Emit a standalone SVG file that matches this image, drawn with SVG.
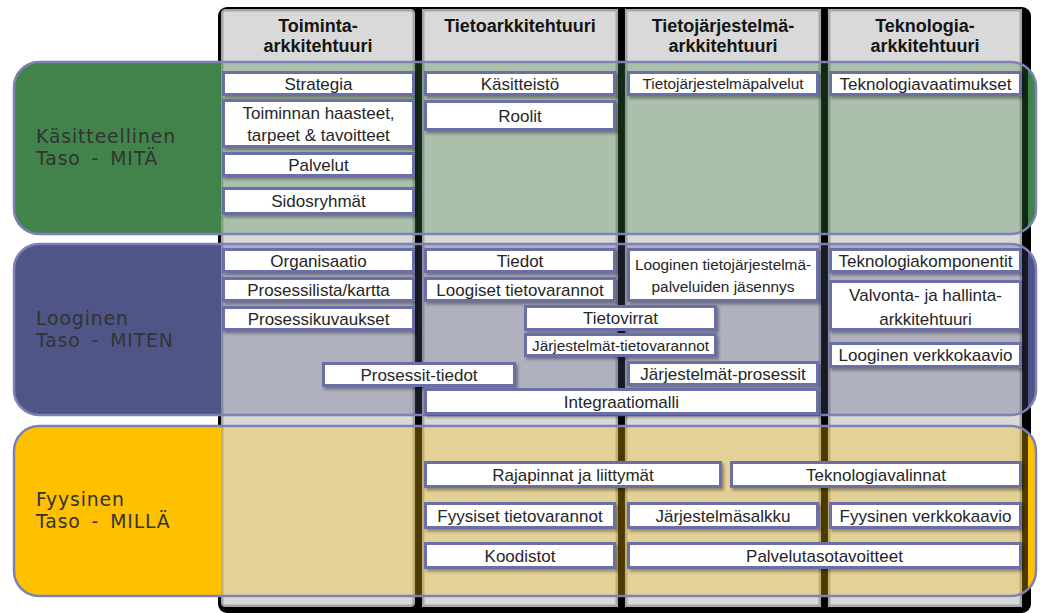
<svg xmlns="http://www.w3.org/2000/svg" width="1040" height="613" viewBox="0 0 1040 613">
<style>
.col{fill:#d9d9d9;stroke:#a6a6a6;stroke-width:2.5}
.hdr{font-family:"Liberation Sans",Arial,sans-serif;font-weight:bold;font-size:18px;fill:#141414;text-anchor:middle}
.bandline{fill:none;stroke:#7c81b7;stroke-width:2.5}
.lbl{font-family:"DejaVu Sans",Verdana,sans-serif;font-size:18.8px;fill:#333333;letter-spacing:0.9px;word-spacing:4px}
.box rect{fill:#ffffff;stroke:#6a6fa7;stroke-width:3;filter:url(#sh)}
.box text{font-family:"Liberation Sans",Arial,sans-serif;font-size:17px;fill:#262626;text-anchor:middle}
.box text.s{font-size:15.4px}
</style>
<defs>
<filter id="sh" x="-10%" y="-30%" width="120%" height="170%">
<feDropShadow dx="2" dy="2.5" stdDeviation="1.5" flood-color="#000" flood-opacity="0.35"/>
</filter>
<clipPath id="cb1"><rect x="14" y="62" width="1022" height="172" rx="25"/></clipPath>
<clipPath id="cb2"><rect x="14" y="244" width="1022" height="171" rx="25"/></clipPath>
<clipPath id="cb3"><rect x="14" y="426" width="1022" height="170" rx="25"/></clipPath>
</defs>
<rect width="1040" height="613" fill="#ffffff"/>
<g id="columns">
<rect x="218" y="7" width="813" height="606" rx="9" fill="#000"/>
<rect class="col" x="222.2" y="10.2" width="191.6" height="595.6" rx="3"/>
<rect class="col" x="423.2" y="10.2" width="193.6" height="595.6"/>
<rect class="col" x="626.2" y="10.2" width="193.6" height="595.6"/>
<rect class="col" x="829.2" y="10.2" width="191.6" height="595.6"/>
<text class="hdr" x="318" y="31.5">Toiminta-</text>
<text class="hdr" x="318" y="52">arkkitehtuuri</text>
<text class="hdr" x="520" y="31.5">Tietoarkkitehtuuri</text>
<text class="hdr" x="723" y="31.5">Tietojärjestelmä-</text>
<text class="hdr" x="723" y="52">arkkitehtuuri</text>
<text class="hdr" x="925" y="31.5">Teknologia-</text>
<text class="hdr" x="925" y="52">arkkitehtuuri</text>
</g>
<g id="band1">
<g clip-path="url(#cb1)">
<rect x="0" y="0" width="221" height="613" fill="#41834a"/>
<rect x="221" y="0" width="807" height="613" fill="#41834a" fill-opacity="0.3"/>
<rect x="1028" y="0" width="12" height="613" fill="#41834a"/>
</g>
<rect class="bandline" x="14" y="62" width="1022" height="172" rx="25"/>
<text class="lbl" x="36" y="142.5">Käsitteellinen</text>
<text class="lbl" x="36" y="164.5">Taso - MITÄ</text>
</g>
<g id="band2">
<g clip-path="url(#cb2)">
<rect x="0" y="0" width="221" height="613" fill="#4f5586"/>
<rect x="221" y="0" width="807" height="613" fill="#4f5586" fill-opacity="0.3"/>
<rect x="1028" y="0" width="12" height="613" fill="#4f5586"/>
</g>
<rect class="bandline" x="14" y="244" width="1022" height="171" rx="25"/>
<text class="lbl" x="36" y="324.5">Looginen</text>
<text class="lbl" x="36" y="346.5">Taso - MITEN</text>
</g>
<g id="band3">
<g clip-path="url(#cb3)">
<rect x="0" y="0" width="221" height="613" fill="#ffc000"/>
<rect x="221" y="0" width="807" height="613" fill="#ffc000" fill-opacity="0.3"/>
<rect x="1028" y="0" width="12" height="613" fill="#ffc000"/>
</g>
<rect class="bandline" x="14" y="426" width="1022" height="170" rx="25"/>
<text class="lbl" x="36" y="505.5">Fyysinen</text>
<text class="lbl" x="36" y="527.5">Taso - MILLÄ</text>
</g>
<g id="n-strategia" class="box"><rect x="223.5" y="72.5" width="190" height="22"/><text x="318.5" y="89.5">Strategia</text></g>
<g id="n-haasteet" class="box"><rect x="223.5" y="100.5" width="190" height="46"/><text x="318.5" y="118.5">Toiminnan  haasteet,</text><text x="318.5" y="141">tarpeet &amp; tavoitteet</text></g>
<g id="n-palvelut" class="box"><rect x="223.5" y="153.5" width="190" height="22"/><text x="318.5" y="170.5">Palvelut</text></g>
<g id="n-sidosryhmat" class="box"><rect x="223.5" y="188.5" width="190" height="25"/><text x="318.5" y="207">Sidosryhmät</text></g>
<g id="n-kasitteisto" class="box"><rect x="425.5" y="72.5" width="189" height="22"/><text x="520" y="89.5">Käsitteistö</text></g>
<g id="n-roolit" class="box"><rect x="425.5" y="101.5" width="189" height="28"/><text x="520" y="121.5">Roolit</text></g>
<g id="n-tjpalvelut" class="box"><rect x="628.5" y="72.5" width="189" height="22"/><text class="s" x="723" y="89">Tietojärjestelmäpalvelut</text></g>
<g id="n-tekvaatimukset" class="box"><rect x="830.5" y="72.5" width="190" height="22"/><text x="925.5" y="89.5">Teknologiavaatimukset</text></g>
<g id="n-organisaatio" class="box"><rect x="223.5" y="249.5" width="190" height="22"/><text x="318.5" y="266.5">Organisaatio</text></g>
<g id="n-prosessilista" class="box"><rect x="223.5" y="278.5" width="190" height="22"/><text x="318.5" y="295.5">Prosessilista/kartta</text></g>
<g id="n-prosessikuvaukset" class="box"><rect x="223.5" y="307.5" width="190" height="22"/><text x="318.5" y="324.5">Prosessikuvaukset</text></g>
<g id="n-tiedot" class="box"><rect x="425.5" y="249.5" width="189" height="22"/><text x="520" y="266.5">Tiedot</text></g>
<g id="n-loogiset" class="box"><rect x="425.5" y="278.5" width="189" height="22"/><text x="520" y="295.5">Loogiset  tietovarannot</text></g>
<g id="n-ltjjasennys" class="box"><rect x="628.5" y="249.5" width="189" height="51"/><text class="s" x="723" y="270">Looginen tietojärjestelmä-</text><text class="s" x="723" y="292">palveluiden jäsennys</text></g>
<g id="n-tekkomponentit" class="box"><rect x="830.5" y="249.5" width="190" height="22"/><text x="925.5" y="266.5">Teknologiakomponentit</text></g>
<g id="n-valvonta" class="box"><rect x="830.5" y="281.5" width="190" height="48"/><text x="925.5" y="301">Valvonta-  ja hallinta-</text><text x="925.5" y="325">arkkitehtuuri</text></g>
<g id="n-tietovirrat" class="box"><rect x="525.5" y="306.5" width="190" height="23"/><text x="620.5" y="324">Tietovirrat</text></g>
<g id="n-jtietovarannot" class="box"><rect x="525.5" y="334.5" width="190" height="21"/><text class="s" x="620.5" y="350.5">Järjestelmät-tietovarannot</text></g>
<g id="n-lverkkokaavio" class="box"><rect x="830.5" y="343.5" width="190" height="23"/><text x="925.5" y="361">Looginen  verkkokaavio</text></g>
<g id="n-prosessittiedot" class="box"><rect x="323.5" y="363.5" width="191" height="22"/><text x="419" y="380.5">Prosessit-tiedot</text></g>
<g id="n-jprosessit" class="box"><rect x="628.5" y="362.5" width="189" height="22"/><text x="723" y="379.5">Järjestelmät-prosessit</text></g>
<g id="n-integraatiomalli" class="box"><rect x="425.5" y="389.5" width="392" height="24"/><text x="621.5" y="407.5">Integraatiomalli</text></g>
<g id="n-rajapinnat" class="box"><rect x="425.5" y="462.5" width="295" height="24"/><text x="573" y="480.5">Rajapinnat  ja  liittymät</text></g>
<g id="n-tekvalinnat" class="box"><rect x="731.5" y="462.5" width="289" height="24"/><text x="876" y="480.5">Teknologiavalinnat</text></g>
<g id="n-fyysisettv" class="box"><rect x="425.5" y="503.5" width="189" height="24"/><text x="520" y="521.5">Fyysiset  tietovarannot</text></g>
<g id="n-jsalkku" class="box"><rect x="628.5" y="503.5" width="189" height="24"/><text x="723" y="521.5">Järjestelmäsalkku</text></g>
<g id="n-fverkkokaavio" class="box"><rect x="830.5" y="503.5" width="190" height="24"/><text x="925.5" y="521.5">Fyysinen  verkkokaavio</text></g>
<g id="n-koodistot" class="box"><rect x="425.5" y="543.5" width="189" height="24"/><text x="520" y="561.5">Koodistot</text></g>
<g id="n-palvelutaso" class="box"><rect x="628.5" y="543.5" width="392" height="24"/><text x="824.5" y="561.5">Palvelutasotavoitteet</text></g>
</svg>
